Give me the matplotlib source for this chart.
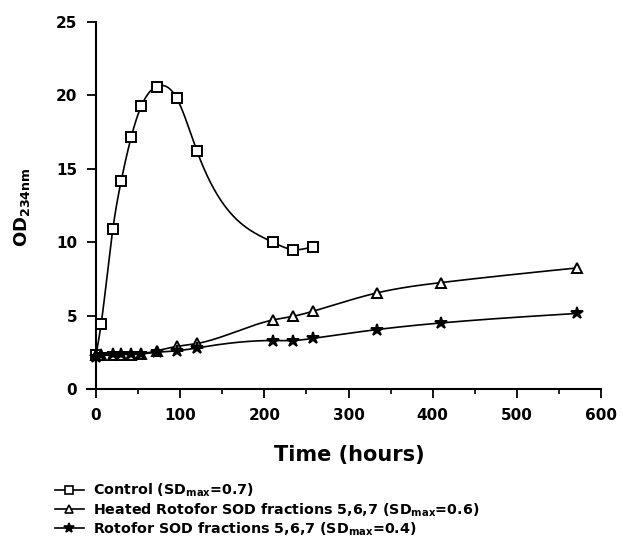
import numpy as np
import matplotlib
matplotlib.use('Agg')
import matplotlib.pyplot as plt
from matplotlib.ticker import MultipleLocator

plt.rcParams['font.family'] = 'DejaVu Sans'
plt.rcParams['font.weight'] = 'bold'
plt.rcParams['mathtext.fontset'] = 'custom'
plt.rcParams['mathtext.rm'] = 'DejaVu Sans:bold'
plt.rcParams['mathtext.bf'] = 'DejaVu Sans:bold'
plt.rcParams['mathtext.it'] = 'DejaVu Sans:bold'

# Data (time in hours, OD at 234 nm)
hours = [0, 6, 20, 30, 42, 54, 72, 96, 120, 210, 234, 258, 334, 410, 572]
control_hours = [0, 6, 20, 30, 42, 54, 72, 96, 120, 210, 234, 258]
control_od = [2.3, 4.4, 10.9, 14.2, 17.2, 19.3, 20.6, 19.8, 16.2, 10.0, 9.5, 9.7]
heated_od = [2.3, 2.3, 2.3, 2.35, 2.35, 2.4, 2.6, 2.9, 3.1, 4.7, 4.95, 5.3, 6.55, 7.25, 8.25]
rotofor_od = [2.2, 2.3, 2.4, 2.4, 2.4, 2.4, 2.5, 2.6, 2.8, 3.3, 3.3, 3.45, 4.05, 4.5, 5.15]

labels = [r'Control (SD$_{\mathbf{max}}$=0.7)',
          r'Heated Rotofor SOD fractions 5,6,7 (SD$_{\mathbf{max}}$=0.6)',
          r'Rotofor SOD fractions 5,6,7 (SD$_{\mathbf{max}}$=0.4)']


def spline_curve(x, y, n=400):
    # natural cubic spline through the measured points, only for the drawn line
    x = np.asarray(x, float)
    y = np.asarray(y, float)
    k = len(x)
    h = np.diff(x)
    A = np.zeros((k, k))
    b = np.zeros(k)
    A[0, 0] = A[-1, -1] = 1
    for i in range(1, k - 1):
        A[i, i - 1] = h[i - 1]
        A[i, i] = 2 * (h[i - 1] + h[i])
        A[i, i + 1] = h[i]
        b[i] = 6 * ((y[i + 1] - y[i]) / h[i] - (y[i] - y[i - 1]) / h[i - 1])
    M = np.linalg.solve(A, b)
    xs = np.linspace(x[0], x[-1], n)
    idx = np.clip(np.searchsorted(x, xs) - 1, 0, k - 2)
    x0, x1 = x[idx], x[idx + 1]
    hh = x1 - x0
    t0, t1 = x1 - xs, xs - x0
    ys = (M[idx] * t0 ** 3 + M[idx + 1] * t1 ** 3) / (6 * hh) \
        + (y[idx] / hh - M[idx] * hh / 6) * t0 + (y[idx + 1] / hh - M[idx + 1] * hh / 6) * t1
    return xs, ys


fig = plt.figure(figsize=(6.23, 5.57), dpi=100)
ax = fig.add_axes([87 / 623, 1 - 389 / 557, (601 - 87) / 623, (389 - 22) / 557])

series = [
    (control_hours, control_od, dict(marker='s', markersize=7, mfc='white')),
    (hours, heated_od, dict(marker='^', markersize=7, mfc='white')),
    (hours, rotofor_od, dict(marker='*', markersize=9, mfc='black')),
]
for (xv, yv, mk), lab in zip(series, labels):
    xs, ys = spline_curve(xv, yv)
    ax.plot(xs, ys, color='black', lw=1.2, clip_on=False, zorder=2)
    ax.plot(xv, yv, linestyle='none', color='black', mec='black', mew=1.4,
            clip_on=False, zorder=3, **mk)
    ax.plot([], [], color='black', lw=1.2, mec='black', mew=1.2, label=lab,
            marker=mk['marker'], mfc=mk['mfc'], markersize=mk['markersize'] - 1.5)

ax.set_xlim(-10.7, 600)
ax.set_ylim(0, 25)
ax.spines['top'].set_visible(False)
ax.spines['right'].set_visible(False)
ax.spines['left'].set_position(('data', 0))
ax.spines['left'].set_linewidth(1.5)
ax.spines['bottom'].set_linewidth(1.5)

ax.xaxis.set_major_locator(MultipleLocator(100))
ax.xaxis.set_minor_locator(MultipleLocator(50))
ax.yaxis.set_major_locator(MultipleLocator(5))
ax.tick_params(axis='both', which='major', length=6.5, width=1.3, labelsize=11, pad=7)
ax.tick_params(axis='x', which='minor', length=3.5, width=1.2)

fig.text(349 / 623, 1 - 455 / 557, 'Time (hours)', fontsize=15, fontweight='bold',
         ha='center', va='center')
fig.text(22 / 623, 1 - 207 / 557, r'OD$_{\mathbf{234nm}}$', rotation=90,
         fontsize=13, fontweight='bold', ha='center', va='center')

fig.legend(loc='upper left', bbox_to_anchor=(55 / 623, 1 - 482 / 557), frameon=False,
           fontsize=10.3, handlelength=2.0, handletextpad=0.65, labelspacing=0.12,
           borderaxespad=0, borderpad=0)

fig.savefig('out.png', dpi=100)
